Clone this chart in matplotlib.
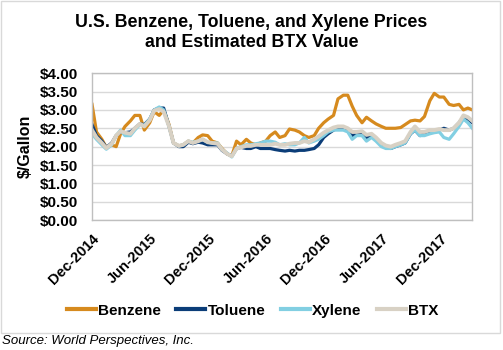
import matplotlib
matplotlib.use("Agg")
import matplotlib.pyplot as plt
import matplotlib.dates as mdates
import pandas as pd

plt.rcParams['font.family'] = ['Liberation Sans', 'DejaVu Sans']

# semi-monthly prices, $/gallon, Dec-2014 .. mid Mar-2018
dates = pd.date_range('2014-12-01', periods=80, freq='SMS')

benzene = [3.15, 2.4, 2.2, 1.98, 2.05, 2.0, 2.35, 2.55, 2.7, 2.85,
           2.85, 2.45, 2.65, 2.95, 2.85, 3.0, 2.6, 2.1, 2.02, 2.05,
           2.15, 2.1, 2.25, 2.32, 2.3, 2.15, 2.1, 1.95, 1.8, 1.75,
           2.15, 2.05, 2.2, 2.1, 2.05, 2.1, 2.15, 2.3, 2.4, 2.25,
           2.3, 2.48, 2.45, 2.4, 2.3, 2.25, 2.3, 2.5, 2.65, 2.75,
           2.85, 3.3, 3.4, 3.4, 3.1, 2.85, 2.65, 2.8, 2.7, 2.62,
           2.55, 2.5, 2.5, 2.5, 2.52, 2.6, 2.7, 2.72, 2.7, 2.82,
           3.25, 3.45, 3.35, 3.35, 3.15, 3.12, 3.15, 3.0, 3.05, 3.0]

toluene = [2.6, 2.3, 2.15, 1.98, 2.1, 2.3, 2.4, 2.38, 2.4, 2.5,
           2.62, 2.6, 2.75, 3.0, 3.05, 3.05, 2.55, 2.1, 2.0, 2.0,
           2.12, 2.08, 2.12, 2.1, 2.05, 2.05, 2.05, 1.9, 1.8, 1.75,
           1.95, 1.98, 1.95, 1.95, 2.0, 1.95, 1.95, 1.95, 1.92, 1.9,
           1.88, 1.9, 1.88, 1.9, 1.9, 1.92, 1.95, 2.05, 2.25, 2.35,
           2.45, 2.5, 2.5, 2.45, 2.3, 2.35, 2.4, 2.25, 2.3, 2.2,
           2.05, 1.98, 1.95, 2.0, 2.05, 2.1, 2.35, 2.45, 2.3, 2.35,
           2.4, 2.4, 2.45, 2.5, 2.45, 2.5, 2.65, 2.8, 2.75, 2.65]

xylene = [2.35, 2.2, 2.05, 1.93, 2.05, 2.3, 2.45, 2.3, 2.3, 2.45,
          2.6, 2.58, 2.75, 3.0, 3.08, 3.0, 2.55, 2.1, 2.02, 2.05,
          2.15, 2.12, 2.15, 2.2, 2.12, 2.1, 2.1, 1.92, 1.82, 1.72,
          1.95, 2.0, 2.05, 2.05, 2.08, 2.1, 2.15, 2.15, 2.12, 2.05,
          2.08, 2.05, 2.05, 2.1, 2.25, 2.1, 2.15, 2.2, 2.3, 2.4,
          2.45, 2.45, 2.45, 2.4, 2.2, 2.3, 2.3, 2.15, 2.25, 2.15,
          2.0, 1.95, 1.95, 2.0, 2.05, 2.1, 2.35, 2.45, 2.3, 2.3,
          2.35, 2.38, 2.4, 2.25, 2.2, 2.35, 2.55, 2.75, 2.65, 2.5]

btx = [2.45, 2.25, 2.1, 1.96, 2.08, 2.3, 2.42, 2.38, 2.35, 2.5,
       2.62, 2.55, 2.72, 2.98, 3.02, 2.95, 2.55, 2.1, 2.02, 2.05,
       2.15, 2.1, 2.15, 2.2, 2.12, 2.1, 2.08, 1.92, 1.8, 1.74,
       1.95, 1.98, 2.02, 2.02, 2.05, 2.05, 2.05, 2.05, 2.08, 2.05,
       2.05, 2.08, 2.1, 2.1, 2.15, 2.12, 2.2, 2.28, 2.38, 2.45,
       2.52, 2.55, 2.55, 2.5, 2.4, 2.4, 2.42, 2.32, 2.35, 2.25,
       2.1, 2.03, 2.0, 2.05, 2.1, 2.15, 2.4, 2.55, 2.4, 2.4,
       2.45, 2.45, 2.48, 2.45, 2.45, 2.5, 2.65, 2.85, 2.8, 2.7]

tick_dates = pd.to_datetime(['2014-12-01', '2015-06-01', '2015-12-01', '2016-06-01',
                             '2016-12-01', '2017-06-01', '2017-12-01'])
yticks = [0, 0.5, 1.0, 1.5, 2.0, 2.5, 3.0, 3.5, 4.0]

fig = plt.figure(figsize=(5.03, 3.5), dpi=100)
ax = fig.add_axes([0.183, 0.371, 0.756, 0.42])

ax.plot(dates, benzene, color='#D68A1E', lw=2.3, label='Benzene')
ax.plot(dates, toluene, color='#0B3D78', lw=2.3, label='Toluene')
ax.plot(dates, xylene, color='#82CFE2', lw=2.3, label='Xylene')
ax.plot(dates, btx, color='#D8D1C4', lw=2.8, label='BTX')

ax.set_ylim(0, 4)
ax.set_yticks(yticks)
ax.set_yticklabels(['${:.2f}'.format(v) for v in yticks], fontsize=11, fontweight='bold')
ax.set_xlim(dates[0], dates[-1])
ax.set_xticks(tick_dates)
ax.xaxis.set_major_formatter(mdates.DateFormatter('%b-%Y'))
for lbl in ax.get_xticklabels():
    lbl.set_rotation(45)
    lbl.set_ha('right')
    lbl.set_rotation_mode('anchor')
    lbl.set_fontsize(10.5)
    lbl.set_fontweight('bold')
ax.tick_params(axis='y', length=0, pad=10)
ax.tick_params(axis='x', length=0, pad=8)
ax.set_ylabel('$/Gallon', fontsize=11.5, fontweight='bold', labelpad=5)

ax.grid(axis='y', color='#D9D9D9', lw=1)
ax.set_axisbelow(True)
for s in ax.spines.values():
    s.set_color('#BFBFBF')
    s.set_linewidth(1)

fig.text(0.5, 0.935, 'U.S. Benzene, Toluene, and Xylene Prices', ha='center', va='center',
         fontsize=12.8, fontweight='bold')
fig.text(0.5, 0.878, 'and Estimated BTX Value', ha='center', va='center',
         fontsize=12.8, fontweight='bold')

leg = fig.legend(loc='center', bbox_to_anchor=(0.502, 0.112), ncol=4, frameon=False,
                 handlelength=1.9, handletextpad=0.15, columnspacing=1.0,
                 prop={'size': 11, 'weight': 'bold'})
for line in leg.get_lines():
    line.set_linewidth(3)

# outer chart border
fig.patches.append(plt.Rectangle((0.002, 0.05), 0.992, 0.946, transform=fig.transFigure,
                                 fill=False, edgecolor='#D9D9D9', lw=1))
fig.text(0.004, 0.025, 'Source: World Perspectives, Inc.', ha='left', va='center',
         fontsize=9.5, style='italic')

fig.savefig('out.png', dpi=100)
